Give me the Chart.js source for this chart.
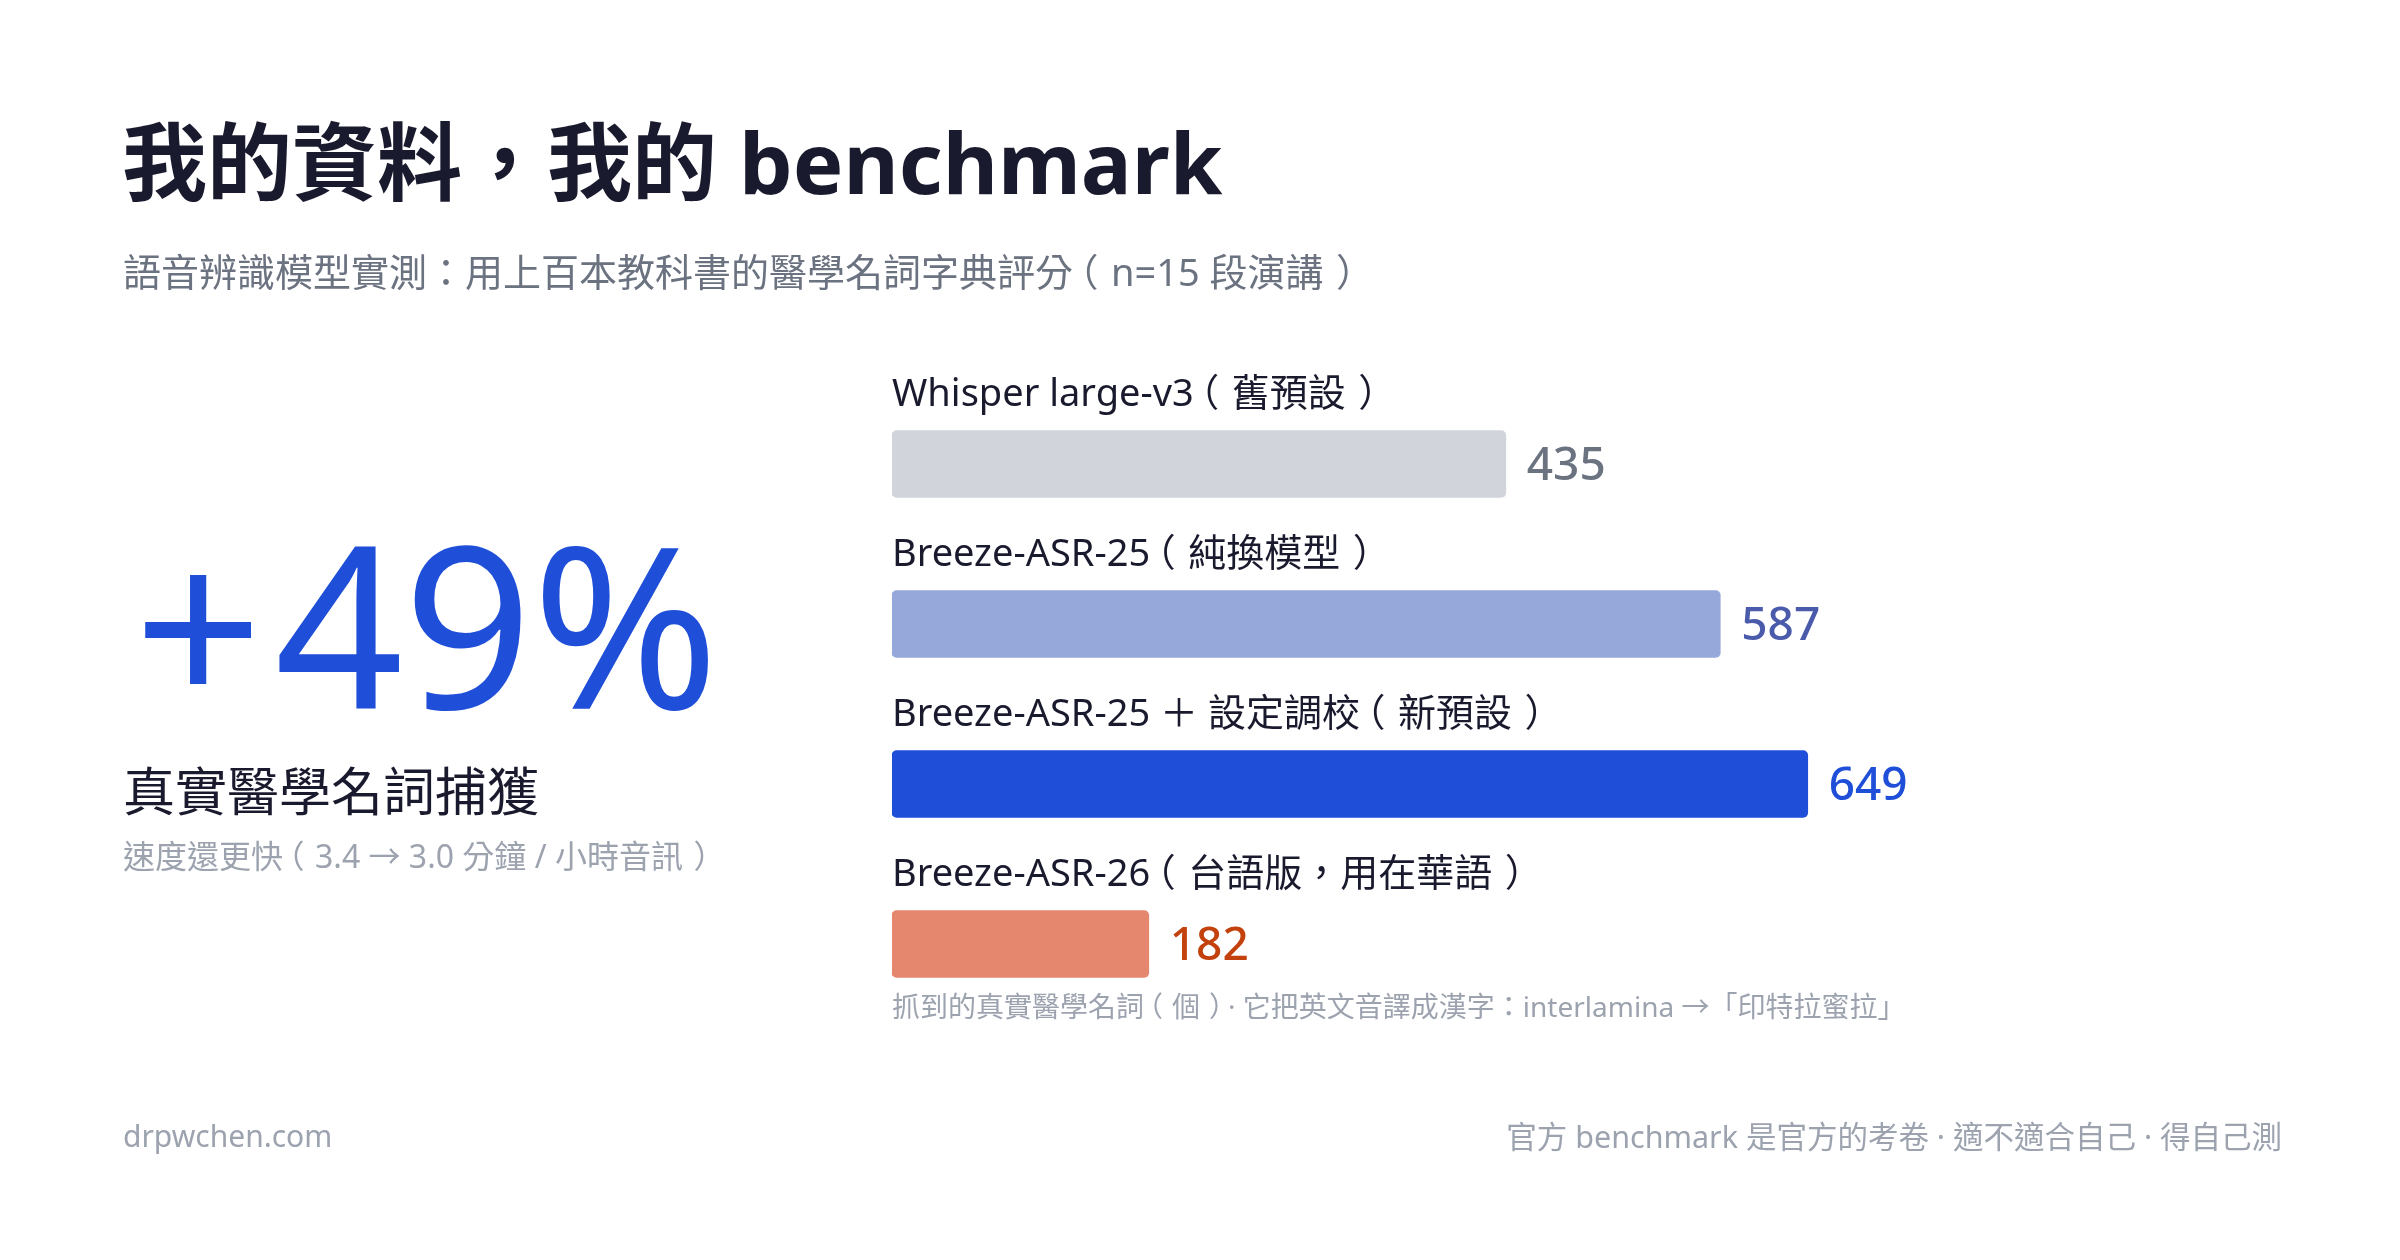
<!DOCTYPE html>
<html lang="zh-Hant">
<head>
<meta charset="utf-8">
<title>我的資料，我的 benchmark</title>
<script src="https://cdn.jsdelivr.net/npm/chart.js@4.4.1/dist/chart.umd.min.js"></script>
<style>
  html, body { margin: 0; padding: 0; background: #ffffff; }
  body { width: 2400px; height: 1260px; position: relative; overflow: hidden;
         font-family: "Noto Sans", "Noto Sans CJK TC", sans-serif; }
  #wrap { position: absolute; left: 0; top: 0; width: 2400px; height: 1260px; }
  .t { position: absolute; line-height: 1; white-space: nowrap; margin: 0; }
  .fw { display: inline-block; width: 1em; white-space: nowrap; }
  #title { left: 122px; top: 119px; font-size: 85px; font-weight: 700; color: #1a1a2e; }
  #subtitle { left: 123px; top: 252px; font-size: 38px; color: #6b7280; }
  #big { left: 134px; top: 509px; font-size: 225px; font-weight: 400; color: #1f4fd8; }
  #big .plus { margin-right: 12px; }
  #bigLabel { left: 123px; top: 765px; font-size: 52px; color: #1a1a2e; }
  #bigNote { left: 123px; top: 840px; font-size: 32px; color: #9ca3af; }
  #footnote { left: 892px; top: 992px; font-size: 28px; color: #9ca3af; }
  #site { left: 123px; top: 1121px; font-size: 30px; color: #9ca3af; }
  #tagline { right: 118px; top: 1121px; font-size: 30.5px; color: #9ca3af; }
</style>
</head>
<body>
<div id="wrap"><canvas id="chart"></canvas></div>
<h1 class="t" id="title">我的資料，我的 benchmark</h1>
<div class="t" id="subtitle">語音辨識模型實測：用上百本教科書的醫學名詞字典評分<span class="fw">（</span>n=15 段演講<span class="fw">）</span></div>
<div class="t" id="big"><span class="plus">+</span>49%</div>
<div class="t" id="bigLabel">真實醫學名詞捕獲</div>
<div class="t" id="bigNote">速度還更快<span class="fw">（</span>3.4 → 3.0 分鐘 / 小時音訊<span class="fw">）</span></div>
<div class="t" id="footnote">抓到的真實醫學名詞<span class="fw">（</span>個<span class="fw">）</span>· 它把英文音譯成漢字：interlamina →「印特拉蜜拉」</div>
<div class="t" id="site">drpwchen.com</div>
<div class="t" id="tagline">官方 benchmark 是官方的考卷 · 適不適合自己 · 得自己測</div>

<script>
// 模型名稱與抓到的醫學名詞數
const models = [
    'Whisper large-v3（舊預設）',
    'Breeze-ASR-25（純換模型）',
    'Breeze-ASR-25 ＋ 設定調校（新預設）',
    'Breeze-ASR-26（台語版，用在華語）'
];
const termCounts = [435, 587, 649, 182];

const barColors = ['#d1d5db', '#96a7d9', '#1f4fd8', '#e5866f'];
const valueColors = ['#6b7280', '#4a5bab', '#1f4fd8', '#c2410c'];

const FONT = '"Noto Sans", "Noto Sans CJK TC", sans-serif';

// 全形括號置中在一個字寬裡（台灣排法）
function fillCJK(ctx, text, x, y, em) {
    let cx = x;
    text.split(/([（）])/).forEach(part => {
        if (!part) return;
        if (part === '（' || part === '）') {
            const m = ctx.measureText(part);
            const inkMid = (m.actualBoundingBoxRight - m.actualBoundingBoxLeft) / 2;
            ctx.fillText(part, cx + em / 2 - inkMid, y);
            cx += em;
        } else {
            ctx.fillText(part, cx, y);
            cx += ctx.measureText(part).width;
        }
    });
}

// HTML 裡的括號也一樣置中（用 text-indent，可以是負值）
const measureCtx = document.createElement('canvas').getContext('2d');
document.querySelectorAll('.fw').forEach(el => {
    const cs = getComputedStyle(el);
    const size = parseFloat(cs.fontSize);
    measureCtx.font = cs.fontWeight + ' ' + cs.fontSize + ' ' + cs.fontFamily;
    const m = measureCtx.measureText(el.textContent);
    const inkMid = (m.actualBoundingBoxRight - m.actualBoundingBoxLeft) / 2;
    el.style.textIndent = (size / 2 - inkMid) + 'px';
});

// 在每根長條上方畫名稱，右邊畫數值
const barLabels = {
    id: 'barLabels',
    afterDatasetsDraw(chart) {
        const ctx = chart.ctx;
        const meta = chart.getDatasetMeta(0);
        const left = chart.chartArea.left;
        ctx.save();
        meta.data.forEach((bar, i) => {
            const half = bar.height / 2;
            ctx.textAlign = 'left';
            ctx.textBaseline = 'alphabetic';
            ctx.fillStyle = '#1a1a2e';
            ctx.font = '38px ' + FONT;
            fillCJK(ctx, models[i], left, bar.y - half - 25, 38);

            ctx.fillStyle = valueColors[i];
            ctx.font = '500 46px ' + FONT;
            ctx.fillText(String(termCounts[i]), bar.x + 21, bar.y + 16);
        });
        ctx.restore();
    }
};

new Chart(document.getElementById('chart'), {
    type: 'bar',
    data: {
        labels: models,
        datasets: [{
            data: termCounts,
            backgroundColor: barColors,
            borderRadius: 5,
            borderSkipped: false,
            barThickness: 67
        }]
    },
    options: {
        indexAxis: 'y',
        responsive: true,
        maintainAspectRatio: false,
        animation: false,
        layout: { padding: { left: 892, right: 97, top: 384, bottom: 236 } },
        scales: {
            x: { display: false, min: 0, max: 1000 },
            y: { display: false }
        },
        plugins: {
            legend: { display: false },
            tooltip: { enabled: false }
        }
    },
    plugins: [barLabels]
});
</script>
</body>
</html>
